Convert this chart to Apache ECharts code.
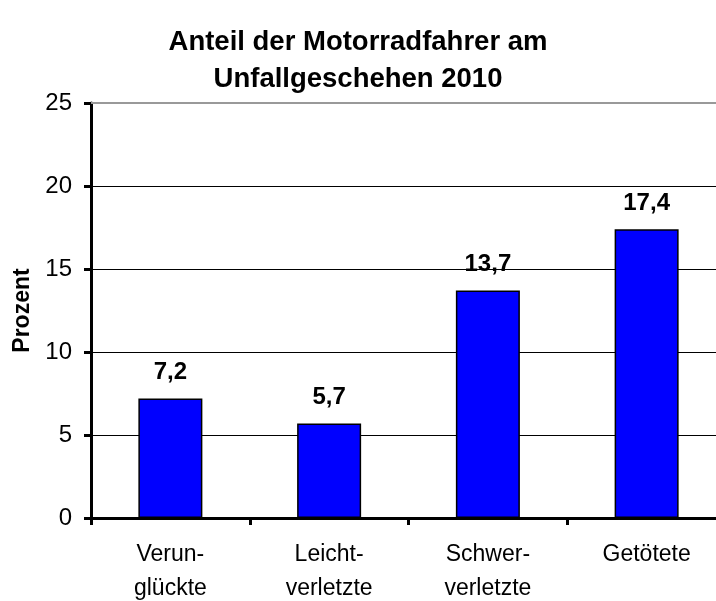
<!DOCTYPE html>
<html>
<head>
<meta charset="utf-8">
<script src="https://cdn.jsdelivr.net/npm/echarts@6/dist/echarts.min.js"></script>
<style>
  html, body { margin: 0; padding: 0; background: #fff; }
  #chart { width: 716px; height: 601px; }
</style>
</head>
<body>
<div id="chart"></div>
<script>
// Daten
const categories = ["Verun-\nglückte", "Leicht-\nverletzte", "Schwer-\nverletzte", "Getötete"];
const values = [7.2, 5.7, 13.7, 17.4];
const yTicks = [0, 5, 10, 15, 20, 25];

const font = "'Liberation Sans', Arial, sans-serif";
const chart = echarts.init(document.getElementById("chart"));

chart.setOption({
  animation: false,
  backgroundColor: "#fff",
  title: {
    text: "Anteil der Motorradfahrer am\nUnfallgeschehen 2010",
    left: "center",
    top: 19,
    textStyle: {
      fontFamily: font,
      fontSize: 27.5,
      fontWeight: "bold",
      color: "#000",
      lineHeight: 37
    }
  },
  // Plotbereich ragt rechts über den Rand hinaus (wie im Original abgeschnitten)
  grid: { left: 91, top: 103, width: 635, height: 415, outerBoundsMode: "none", containLabel: false },
  xAxis: {
    type: "category",
    data: categories,
    axisLine: { lineStyle: { color: "#000", width: 3 } },
    axisTick: { show: true, length: 7, lineStyle: { color: "#000", width: 3 } },
    axisLabel: {
      fontFamily: font,
      fontSize: 23,
      color: "#000",
      lineHeight: 34,
      margin: 20
    }
  },
  yAxis: {
    type: "value",
    min: yTicks[0],
    max: yTicks[yTicks.length - 1],
    interval: 5,
    name: "Prozent",
    nameLocation: "middle",
    nameRotate: 90,
    nameGap: 57,
    nameTextStyle: { fontFamily: font, fontSize: 23, fontWeight: "bold", color: "#000" },
    axisLine: { show: true, lineStyle: { color: "#000", width: 3 } },
    axisTick: { show: true, length: 7, lineStyle: { color: "#000", width: 3 } },
    axisLabel: { fontFamily: font, fontSize: 24, color: "#000", margin: 19 },
    splitLine: { show: true, lineStyle: { color: "#000", width: 1 } }
  },
  series: [{
    type: "bar",
    data: values,
    barWidth: 64,
    itemStyle: { color: "#0000ff", borderColor: "#000", borderWidth: 1.5 },
    label: {
      show: true,
      position: "top",
      distance: 14,
      fontFamily: font,
      fontSize: 24,
      fontWeight: "bold",
      color: "#000",
      formatter: p => String(p.value).replace(".", ",")
    },
    markLine: {
      silent: true,
      symbol: "none",
      label: { show: false },
      lineStyle: { color: "#999", width: 2, type: "solid" },
      data: [{ yAxis: yTicks[yTicks.length - 1] }]
    }
  }]
});
</script>
</body>
</html>
